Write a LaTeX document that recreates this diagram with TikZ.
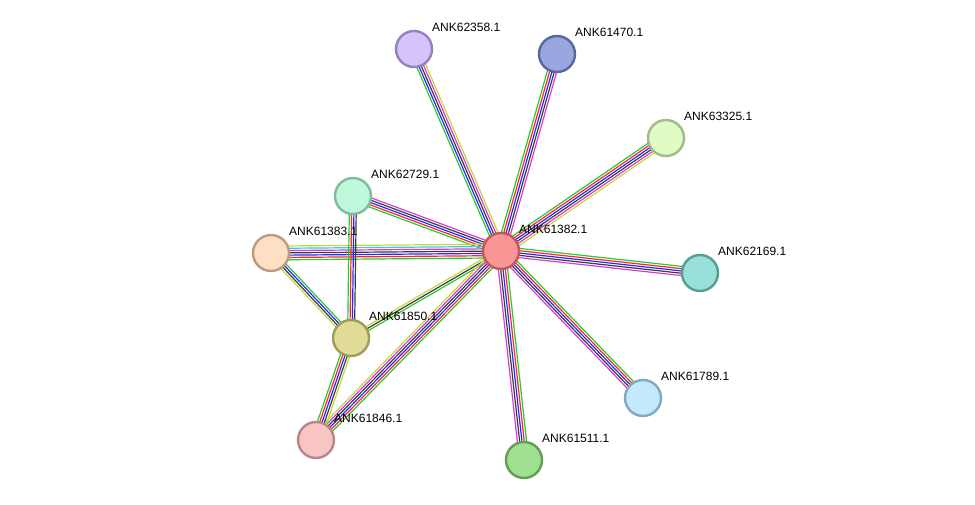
\documentclass[tikz,border=0pt]{standalone}
\usepackage{fontspec}
\setmainfont{Liberation Sans}
\usetikzlibrary{calc,backgrounds}
\definecolor{eg}{RGB}{45,200,45}
\definecolor{er}{RGB}{250,40,40}
\definecolor{eb}{RGB}{40,40,250}
\definecolor{ek}{RGB}{60,60,60}
\definecolor{em}{RGB}{215,60,215}
\definecolor{ec}{RGB}{60,200,230}
\definecolor{ey}{RGB}{195,215,60}
\newcommand\stredge[4]{%
  \foreach \ec [count=\ei] in {#4} {%
    \pgfmathsetmacro\eoff{(\ei-(#3+1)/2)*2.3}%
    \draw[\ec, line width=1.2pt] ($(#1.center)!\eoff pt!90:(#2.center)$) -- ($(#2.center)!\eoff pt!-90:(#1.center)$);
  }%
}
\begin{document}
\begin{tikzpicture}[x=1pt,y=-1pt,
  prot/.style={circle, minimum size=36pt, inner sep=0pt, line width=2.4pt},
  lbl/.style={anchor=west, font=\fontsize{12}{14}\selectfont, inner sep=0pt}]
\useasboundingbox (0,0) rectangle (975,505);
\node[prot, fill={rgb,255:red,250;green,150;blue,150}, draw={rgb,255:red,190;green,90;blue,90}] (c) at (501,251) {};
\node[prot, fill={rgb,255:red,213;green,196;blue,252}, draw={rgb,255:red,150;green,128;blue,192}] (n1) at (414,49) {};
\node[prot, fill={rgb,255:red,154;green,166;blue,224}, draw={rgb,255:red,90;green,102;blue,160}] (n2) at (557,54) {};
\node[prot, fill={rgb,255:red,224;green,252;blue,196}, draw={rgb,255:red,160;green,188;blue,136}] (n3) at (666,138) {};
\node[prot, fill={rgb,255:red,192;green,248;blue,220}, draw={rgb,255:red,128;green,188;blue,156}] (n4) at (353,196) {};
\node[prot, fill={rgb,255:red,253;green,224;blue,196}, draw={rgb,255:red,188;green,156;blue,128}] (n5) at (271,253) {};
\node[prot, fill={rgb,255:red,152;green,224;blue,216}, draw={rgb,255:red,88;green,156;blue,148}] (n6) at (700,273) {};
\node[prot, fill={rgb,255:red,224;green,220;blue,152}, draw={rgb,255:red,160;green,156;blue,88}] (n7) at (351,338) {};
\node[prot, fill={rgb,255:red,196;green,232;blue,252}, draw={rgb,255:red,132;green,168;blue,192}] (n8) at (643,398) {};
\node[prot, fill={rgb,255:red,248;green,196;blue,196}, draw={rgb,255:red,184;green,136;blue,136}] (n9) at (316,440) {};
\node[prot, fill={rgb,255:red,160;green,224;blue,144}, draw={rgb,255:red,96;green,160;blue,80}] (n10) at (524,460) {};
\begin{scope}[on background layer]
\stredge{c}{n1}{5}{ey,em,ek,eb,eg}
\stredge{c}{n2}{5}{em,ek,eb,er,eg}
\stredge{c}{n3}{6}{ey,em,ek,eb,er,eg}
\stredge{c}{n6}{5}{em,ek,eb,er,eg}
\stredge{c}{n8}{5}{em,ek,eb,er,eg}
\stredge{c}{n10}{5}{em,ek,eb,er,eg}
\stredge{c}{n4}{5}{em,ek,eb,er,eg}
\stredge{c}{n5}{7}{ey,ec,em,ek,eb,er,eg}
\stredge{c}{n7}{3}{ey,ek,eg}
\stredge{c}{n9}{6}{ey,em,ek,eb,er,eg}
\stredge{n4}{n7}{4}{eg,er,eb,ek}
\stredge{n5}{n7}{4}{ey,ek,eb,eg}
\stredge{n7}{n9}{5}{eg,er,eb,ek,ey}
\end{scope}
\node[lbl] (lc) at ($(c)+(18,-22)$) {ANK61382.1};
\node[lbl] (l1) at ($(n1)+(18,-22)$) {ANK62358.1};
\node[lbl] (l2) at ($(n2)+(18,-22)$) {ANK61470.1};
\node[lbl] (l3) at ($(n3)+(18,-22)$) {ANK63325.1};
\node[lbl] (l4) at ($(n4)+(18,-22)$) {ANK62729.1};
\node[lbl] (l5) at ($(n5)+(18,-22)$) {ANK61383.1};
\node[lbl] (l6) at ($(n6)+(18,-22)$) {ANK62169.1};
\node[lbl] (l7) at ($(n7)+(18,-22)$) {ANK61850.1};
\node[lbl] (l8) at ($(n8)+(18,-22)$) {ANK61789.1};
\node[lbl] (l9) at ($(n9)+(18,-22)$) {ANK61846.1};
\node[lbl] (l10) at ($(n10)+(18,-22)$) {ANK61511.1};
\end{tikzpicture}
\end{document}
